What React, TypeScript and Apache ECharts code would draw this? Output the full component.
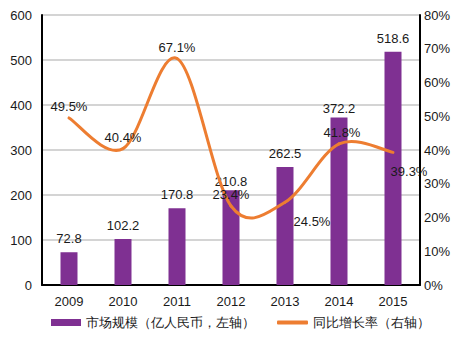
import React, { useEffect, useRef } from "react";
import * as echarts from "echarts";

const years = ["2009", "2010", "2011", "2012", "2013", "2014", "2015"];
const marketSize = [72.8, 102.2, 170.8, 210.8, 262.5, 372.2, 518.6];
const growthRate = [49.5, 40.4, 67.1, 23.4, 24.5, 41.8, 39.3];
const barName = "市场规模（亿人民币，左轴）";
const lineName = "同比增长率（右轴）";

const FONT = "'Liberation Sans', Arial, sans-serif";
const TXT = "#1a1a1a";
const ORANGE = "#ed7d31";

export default function App() {
  const ref = useRef<HTMLDivElement>(null);
  useEffect(() => {
    if (!ref.current) return;
    const chart = echarts.init(ref.current, undefined, { renderer: "svg" });
    const barDist: Record<number, number> = { 3: 2, 5: 3 };
    const lineLabel: Record<number, any> = {
      4: { position: "bottom", offset: [27, 8] },
      5: { offset: [3, 0] },
      6: { position: "bottom", offset: [16, 8] },
    };
    const n = growthRate.length;
    chart.setOption({
      animation: false,
      textStyle: { fontFamily: FONT },
      grid: { left: 42, right: 44, top: 15, bottom: 59 },
      legend: [
        {
          bottom: 10,
          left: 46,
          itemWidth: 30,
          itemHeight: 7,
          itemGap: 4,
          textStyle: { fontSize: 13, color: TXT, fontFamily: FONT },
          data: [{ name: barName, icon: "rect" }],
        },
        {
          bottom: 10,
          left: 272,
          itemWidth: 31,
          itemHeight: 4,
          textStyle: { fontSize: 13, color: TXT, fontFamily: FONT },
          data: [{ name: lineName, icon: "roundRect", itemStyle: { color: ORANGE } }],
        },
      ],
      xAxis: {
        type: "category",
        data: years,
        axisLine: { lineStyle: { color: "#000", width: 2 } },
        axisTick: { show: false },
        axisLabel: { fontSize: 13, color: TXT, margin: 10 },
      },
      yAxis: [
        {
          type: "value",
          min: 0,
          max: 600,
          interval: 100,
          axisLine: { show: true, lineStyle: { color: "#000", width: 2 } },
          axisTick: { show: false },
          axisLabel: { fontSize: 13, color: TXT, margin: 10 },
          splitLine: { lineStyle: { color: "#d4d4d4", width: 2 } },
        },
        {
          type: "value",
          min: 0,
          max: 80,
          interval: 10,
          axisLine: { show: true, lineStyle: { color: "#000", width: 2 } },
          axisTick: { show: false },
          axisLabel: { fontSize: 13, color: TXT, margin: 4, formatter: "{value}%" },
          splitLine: { show: false },
        },
      ],
      series: [
        {
          name: barName,
          type: "bar",
          barWidth: 17,
          itemStyle: { color: "#7f3092" },
          data: marketSize.map((v, i) => ({
            value: v,
            label: { distance: barDist[i] ?? 7 },
          })),
          label: {
            show: true,
            position: "top",
            fontSize: 13,
            color: TXT,
            formatter: (p: any) => p.value.toFixed(1),
          },
          z: 2,
        },
        {
          name: lineName,
          type: "custom",
          yAxisIndex: 1,
          itemStyle: { color: ORANGE },
          encode: { x: 0, y: 1 },
          data: growthRate.map((v, i) => [i, v]),
          renderItem: (params: any, api: any) => {
            const i = params.dataIndex;
            if (i >= n - 1) return null;
            const pt = (j: number) => {
              const k = Math.max(0, Math.min(n - 1, j));
              return api.coord([k, growthRate[k]]);
            };
            const p0 = pt(i - 1), p1 = pt(i), p2 = pt(i + 1), p3 = pt(i + 2);
            return {
              type: "bezierCurve",
              shape: {
                x1: p1[0],
                y1: p1[1],
                x2: p2[0],
                y2: p2[1],
                cpx1: p1[0] + (p2[0] - p0[0]) / 6,
                cpy1: p1[1] + (p2[1] - p0[1]) / 6,
                cpx2: p2[0] - (p3[0] - p1[0]) / 6,
                cpy2: p2[1] - (p3[1] - p1[1]) / 6,
              },
              style: { stroke: ORANGE, lineWidth: 3, fill: "none", lineCap: "round" },
            };
          },
          z: 3,
        },
        {
          name: "labels",
          type: "scatter",
          yAxisIndex: 1,
          symbolSize: 2,
          silent: true,
          itemStyle: { color: "rgba(0,0,0,0)", opacity: 1 },
          data: growthRate.map((v, i) => ({
            value: v,
            label: lineLabel[i] ?? {},
          })),
          label: {
            show: true,
            position: "top",
            distance: 4,
            fontSize: 13,
            color: TXT,
            opacity: 1,
            formatter: (p: any) => p.value.toFixed(1) + "%",
          },
          z: 4,
        },
      ],
    });
    return () => chart.dispose();
  }, []);
  return <div ref={ref} style={{ width: 464, height: 344, margin: -8 }} />;
}
